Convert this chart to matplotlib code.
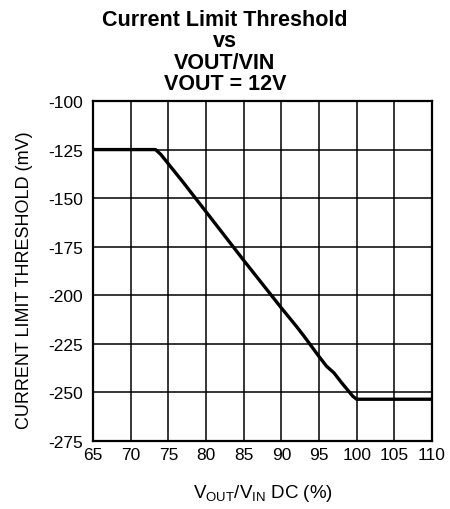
import matplotlib
matplotlib.use("Agg")
import matplotlib.pyplot as plt

plt.rcParams['font.family'] = ['Liberation Sans', 'DejaVu Sans']
plt.rcParams['mathtext.fontset'] = 'custom'
plt.rcParams['mathtext.rm'] = 'Liberation Sans'
plt.rcParams['mathtext.it'] = 'Liberation Sans'

ratio_pct = [65, 73.3, 74, 77, 80, 85, 90, 92, 93, 95, 96, 97, 98, 99.5, 100, 110]
threshold_mv = [-125, -125, -127.5, -142, -157, -182, -206.5, -216, -221, -231.5, -236.5, -240, -245, -252, -253.5, -253.5]

x_ticks = [65, 70, 75, 80, 85, 90, 95, 100, 105, 110]
y_ticks = [-100, -125, -150, -175, -200, -225, -250, -275]

fig = plt.figure(figsize=(4.5, 5.1), dpi=100)
ax = fig.add_axes([93/450, 1-442/510, 339/450, 340/510])

ax.plot(ratio_pct, threshold_mv, color='black', lw=2.4, solid_joinstyle='round', zorder=3)

ax.set_xlim(65, 110)
ax.set_ylim(-275, -100)
ax.set_xticks(x_ticks)
ax.set_yticks(y_ticks)
ax.set_xticklabels([str(v) for v in x_ticks])
ax.set_yticklabels([str(v) for v in y_ticks])
ax.tick_params(length=0, labelsize=12.5, colors='black')
ax.tick_params(axis='y', pad=7)
ax.tick_params(axis='x', pad=4.5)
ax.grid(True, color='black', lw=1.1)
for s in ax.spines.values():
    s.set_linewidth(1.6)

fig.text(0.5, 1 - 10/510, "Current Limit Threshold\nvs\nVOUT/VIN\nVOUT = 12V",
         ha='center', va='top', fontsize=15.5, fontweight='bold', linespacing=1.03)

fig.text(25/450, 1 - 280/510, "CURRENT LIMIT THRESHOLD (mV)", rotation=90,
         ha='center', va='center', fontsize=13)
fig.text(263/450, 1 - 494/510, r"V$_{\mathrm{OUT}}$/V$_{\mathrm{IN}}$ DC (%)",
         ha='center', va='center', fontsize=13.5)

fig.savefig("out.png", dpi=100)
